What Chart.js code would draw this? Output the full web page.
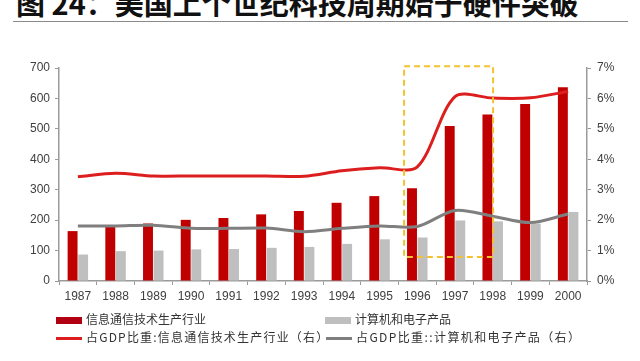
<!DOCTYPE html>
<html>
<head>
<meta charset="utf-8">
<script src="https://cdn.jsdelivr.net/npm/chart.js@4/dist/chart.umd.min.js"></script>
<style>
	body { margin: 0; background: #fff; }
	#wrap { position: relative; width: 640px; height: 361px; overflow: hidden; }
	#title { position: absolute; left: 16px; top: -19px; font: bold 29px "Noto Sans CJK SC", sans-serif; color: #111; white-space: nowrap; }
	#rule { position: absolute; left: 13px; top: 21px; width: 615px; height: 0; border-top: 1.5px solid #8a8a8a; }
	canvas { position: absolute; left: 0; top: 0; }
	.lg { position: absolute; font: 12px "Noto Sans CJK SC", sans-serif; color: #333; white-space: nowrap; line-height: 14px; }
	.mk { position: absolute; }
</style>
</head>
<body>
<div id="wrap">
	<div id="title">图 24：美国上个世纪科技周期始于硬件突破</div>
	<div id="rule"></div>
	<canvas id="chart" width="640" height="361"></canvas>
	<div id="legend"></div>
</div>
<script>
const years = ["1987", "1988", "1989", "1990", "1991", "1992", "1993", "1994", "1995", "1996", "1997", "1998", "1999", "2000"];
const ictOutput = [164, 181, 189, 201, 207, 219, 230, 257, 279, 305, 509, 547, 582, 637];
const computerOutput = [87, 98, 100, 104, 105, 109, 112, 122, 137, 143, 199, 196, 189, 227];
const ictShare = [3.43, 3.54, 3.45, 3.45, 3.45, 3.45, 3.44, 3.62, 3.72, 3.75, 6.06, 6.01, 6.02, 6.23];
const computerShare = [1.81, 1.81, 1.83, 1.73, 1.73, 1.74, 1.62, 1.73, 1.81, 1.79, 2.32, 2.13, 1.92, 2.2];
const leftTicks = [0, 100, 200, 300, 400, 500, 600, 700];
const rightTicks = [0, 1, 2, 3, 4, 5, 6, 7];

// highlight box around 1996-1998, in category index / left-axis units
const boxFrom = 8.65;
const boxTo = 11.01;
const boxTop = 706;
const boxBottom = 79;

const RED = "#c00000";
const RED_LINE = "#dc1e1e";
const GREY = "#bfbfbf";
const GREY_LINE = "#7f7f7f";
const AXIS = "#9a9a9a";

const legendItems = [
	{ text: "信息通信技术生产行业", color: "#b00012", kind: "box", x: 56, y: 320, sp: 0 },
	{ text: "计算机和电子产品", color: GREY, kind: "box", x: 325, y: 320, sp: 0 },
	{ text: "占GDP比重:信息通信技术生产行业（右）", color: RED_LINE, kind: "line", x: 56, y: 338, sp: 1.2 },
	{ text: "占GDP比重::计算机和电子产品（右）", color: GREY_LINE, kind: "line", x: 326, y: 338, sp: 1.4 }
];

function renderLegend() {
	const el = document.getElementById("legend");
	el.innerHTML = legendItems
		.map((it) => {
			const h = it.kind === "box" ? 7 : 3;
			return `<div class="mk" style="left:${it.x}px;top:${it.y - h / 2}px;width:26px;height:${h}px;background:${it.color}"></div>
				<div class="lg" style="left:${it.x + 30}px;top:${it.y - 8}px;letter-spacing:${it.sp}px">${it.text}</div>`;
		})
		.join("");
}

const boxPlugin = {
	id: "hlbox",
	afterDatasetsDraw(chart) {
		const x = chart.scales.x;
		const y = chart.scales.y;
		const x0 = x.getPixelForValue(boxFrom);
		const x1 = x.getPixelForValue(boxTo);
		const y0 = y.getPixelForValue(boxTop);
		const y1 = y.getPixelForValue(boxBottom);
		const ctx = chart.ctx;
		ctx.save();
		ctx.strokeStyle = "#f2c230";
		ctx.lineWidth = 2;
		ctx.setLineDash([6, 4]);
		ctx.strokeRect(x0, y0, x1 - x0, y1 - y0);
		ctx.restore();
	}
};

Chart.defaults.font.family = "'Liberation Sans', Arial, sans-serif";
Chart.defaults.font.size = 12;
Chart.defaults.color = "#404040";

new Chart(document.getElementById("chart"), {
	type: "bar",
	data: {
		labels: years,
		datasets: [
			{ label: "信息通信技术生产行业", data: ictOutput, backgroundColor: RED, order: 1, yAxisID: "y" },
			{ label: "计算机和电子产品", data: computerOutput, backgroundColor: GREY, order: 1, yAxisID: "y" },
			{
				type: "line", label: "占GDP比重:信息通信技术生产行业（右）", data: ictShare, yAxisID: "y2",
				borderColor: RED_LINE, borderWidth: 3, pointRadius: 0, tension: 0.3, order: 0
			},
			{
				type: "line", label: "占GDP比重::计算机和电子产品（右）", data: computerShare, yAxisID: "y2",
				borderColor: GREY_LINE, borderWidth: 3, pointRadius: 0, tension: 0.3, order: 0
			}
		]
	},
	options: {
		responsive: false,
		animation: false,
		layout: { padding: { top: 68, left: 0, right: 0, bottom: 0 } },
		datasets: { bar: { categoryPercentage: 0.56, barPercentage: 0.94 } },
		plugins: { legend: { display: false }, tooltip: { enabled: false } },
		scales: {
			x: {
				grid: { display: true, drawOnChartArea: false, color: AXIS, tickLength: 4, offset: true },
				border: { color: AXIS, width: 1.5 },
				ticks: { padding: 4, maxRotation: 0, autoSkip: false },
				afterFit: (s) => { s.height = 80; }
			},
			y: {
				position: "left",
				min: 0, max: 700,
				afterBuildTicks: (s) => { s.ticks = leftTicks.map((v) => ({ value: v })); },
				grid: { display: true, drawOnChartArea: false, color: AXIS, tickLength: 4 },
				border: { color: AXIS, width: 1.5 },
				ticks: { padding: 5 },
				afterFit: (s) => { s.width = 59; }
			},
			y2: {
				position: "right",
				min: 0, max: 7,
				afterBuildTicks: (s) => { s.ticks = rightTicks.map((v) => ({ value: v })); },
				grid: { display: true, drawOnChartArea: false, color: AXIS, tickLength: 4 },
				border: { color: AXIS, width: 1.5 },
				ticks: { padding: 6, callback: (v) => v + "%" },
				afterFit: (s) => { s.width = 53; }
			}
		}
	},
	plugins: [boxPlugin]
});

renderLegend();
</script>
</body>
</html>
